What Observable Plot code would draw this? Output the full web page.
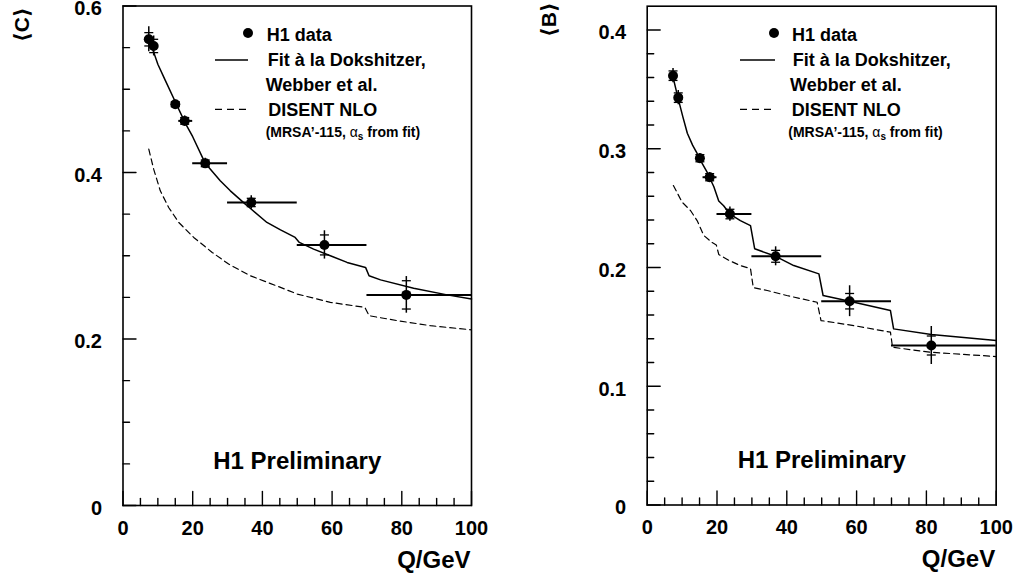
<!DOCTYPE html>
<html><head><meta charset="utf-8">
<script src="https://cdn.jsdelivr.net/npm/d3@7"></script>
<script src="https://cdn.jsdelivr.net/npm/@observablehq/plot@0.6"></script>
<style>
body{margin:0;background:#fff;}
#wrap{position:relative;width:1017px;height:582px;overflow:hidden;background:#fff;}
#left{position:absolute;left:0;top:0;}
#right{position:absolute;left:520px;top:0;}
</style></head><body><div id="wrap"><div id="left"></div><div id="right"></div></div>
<script>
const FONT = '"Liberation Sans", Arial, Helvetica, "DejaVu Sans", sans-serif';

// ---------- shared axis ticks ----------
const xMajor = [0, 20, 40, 60, 80, 100];
const xMinor = [5, 10, 15, 25, 30, 35, 45, 50, 55, 65, 70, 75, 85, 90, 95];
const yMajorC = [0, 0.2, 0.4, 0.6];
const yMinorC = [0.05, 0.1, 0.15, 0.25, 0.3, 0.35, 0.45, 0.5, 0.55];
const yLabelsC = ["0", "0.2", "0.4", "0.6"];
const yMajorB = [0, 0.1, 0.2, 0.3, 0.4];
const yMinorB = [0.02, 0.04, 0.06, 0.08, 0.12, 0.14, 0.16, 0.18, 0.22, 0.24, 0.26, 0.28, 0.32, 0.34, 0.36, 0.38];
const yLabelsB = ["0", "0.1", "0.2", "0.3", "0.4"];

// ---------- H1 data: <C> ----------
const qC    = [7.4, 8.8, 15.0, 17.7, 23.6, 36.8, 57.8, 81.3];
const loC   = [7, 8, 14, 16, 20, 30, 50, 70];
const hiC   = [8, 10, 16, 20, 30, 50, 70, 100];
const valC  = [0.560, 0.552, 0.482, 0.462, 0.411, 0.364, 0.313, 0.253];
const statC = [0.008, 0.008, 0.003, 0.004, 0.004, 0.005, 0.012, 0.017];
const totC  = [0.015, 0.012, 0.005, 0.006, 0.006, 0.008, 0.017, 0.022];

// fit (solid) for <C>
const fitCq = [7.8, 8.6, 10, 12.1, 15, 17.9, 20, 23.6, 27.9, 30.8, 35.1, 36.5, 41.3, 45.2, 49.4, 50.6, 54.7, 59.5, 64.3, 69.6, 70.6, 73.9, 83.4, 93, 100];
const fitCv = [0.553, 0.547, 0.530, 0.511, 0.485, 0.459, 0.443, 0.411, 0.390, 0.378, 0.362, 0.357, 0.340, 0.331, 0.322, 0.316, 0.308, 0.300, 0.292, 0.286, 0.276, 0.271, 0.261, 0.253, 0.248];
// DISENT NLO (dashed) for <C>
const nloCq = [7.4, 8.8, 10.7, 13.1, 16, 20.3, 25.6, 30.3, 36.5, 45.2, 50, 59.5, 69.4, 70.6, 78.7, 88.2, 100];
const nloCv = [0.428, 0.404, 0.378, 0.358, 0.340, 0.322, 0.304, 0.290, 0.276, 0.262, 0.254, 0.244, 0.238, 0.228, 0.222, 0.216, 0.211];

// ---------- H1 data: <B> ----------
const qB    = [7.4, 8.9, 15.1, 17.9, 23.7, 36.8, 58.0, 81.4];
const loB   = [7, 8, 14, 16, 20, 30, 50, 70];
const hiB   = [8, 10, 16, 20, 30, 50, 70, 100];
const valB  = [0.3615, 0.343, 0.292, 0.276, 0.245, 0.2094, 0.1716, 0.1343];
const statB = [0.004, 0.004, 0.003, 0.003, 0.004, 0.005, 0.0065, 0.008];
const totB  = [0.006, 0.006, 0.004, 0.004, 0.006, 0.008, 0.013, 0.016];

const fitBq = [7.3, 8.8, 10.2, 11.5, 13, 14.3, 15.1, 17.2, 19.1, 20.5, 21.9, 23.7, 26.7, 29.6, 30.8, 36.8, 42, 49.2, 50.4, 58, 69.7, 70.6, 81.4, 100];
const fitBv = [0.3615, 0.343, 0.327, 0.313, 0.303, 0.296, 0.291, 0.280, 0.268, 0.256, 0.252, 0.245, 0.2395, 0.2353, 0.2157, 0.2094, 0.2016, 0.1946, 0.1764, 0.1716, 0.1637, 0.1483, 0.1435, 0.1385];
const nloBq = [7.5, 10, 12.4, 14.3, 16.2, 18.6, 19.8, 20.5, 23.4, 26.7, 29.6, 30.4, 34.4, 40, 48.7, 49.8, 59.2, 69.7, 70.3, 81.2, 100];
const nloBv = [0.269, 0.255, 0.248, 0.2395, 0.227, 0.221, 0.219, 0.211, 0.206, 0.2016, 0.199, 0.183, 0.1806, 0.1764, 0.1707, 0.1553, 0.1511, 0.1455, 0.1328, 0.1286, 0.125];

// ---------- text ----------
const legendTexts = ["H1 data", "Fit \u00e0 la Dokshitzer,", "Webber et al.", "DISENT NLO"];
const prelimText = "H1 Preliminary";
const xTitle = "Q/GeV";

const zipPts = (q, lo, hi, v, st, tot) => q.map((d, i) => ({q: d, lo: lo[i], hi: hi[i], v: v[i], stat: st[i], tot: tot[i]}));
const zipLine = (q, v) => q.map((d, i) => ({q: d, v: v[i]}));

const dash = {draw(ctx, size) { const r = Math.sqrt(size / Math.PI); ctx.moveTo(-r, 0); ctx.lineTo(r, 0); }};
const tickShape = {draw(ctx, l) { ctx.moveTo(0, 0); ctx.lineTo(0, -l); }};

function tickMarks(yMajor, yMinor) {
  const st = {stroke: "black", strokeWidth: 1.4, anchor: "start", shape: tickShape};
  return [
    Plot.vector(xMinor, {x: d => d, frameAnchor: "bottom", length: 7, rotate: 0, ...st}),
    Plot.vector(xMajor, {x: d => d, frameAnchor: "bottom", length: 14, rotate: 0, ...st}),
    Plot.vector(yMinor, {y: d => d, frameAnchor: "left", length: 6.5, rotate: 90, ...st}),
    Plot.vector(yMajor, {y: d => d, frameAnchor: "left", length: 13, rotate: 90, ...st})
  ];
}

function panel(cfg) {
  const pts = zipPts(...cfg.pts);
  const svg = Plot.plot({
    width: cfg.width, height: 582,
    marginLeft: cfg.ml, marginRight: cfg.mr, marginTop: cfg.mt, marginBottom: cfg.mb,
    x: {domain: [0, 100], axis: null},
    y: {domain: [0, cfg.ymax], axis: null},
    style: {fontFamily: FONT, fontWeight: "bold", background: "white", overflow: "visible", color: "black"},
    marks: [
      ...tickMarks(cfg.yMajor, cfg.yMinor),
      Plot.frame({stroke: "black", strokeWidth: 1.6}),
      Plot.text(xMajor, {x: d => d, frameAnchor: "bottom", dy: 29, lineAnchor: "bottom", fontSize: 20, fontWeight: "bold", text: d => String(d), fill: "black"}),
      Plot.text(cfg.yMajor, {y: d => d, frameAnchor: "left", dx: -21, dy: 3, textAnchor: "end", lineAnchor: "middle", fontSize: 20, fontWeight: "bold", text: (d, i) => cfg.yLabels[i], fill: "black"}),
      Plot.line(zipLine(...cfg.nlo), {x: "q", y: "v", stroke: "black", strokeWidth: 1.2, strokeDasharray: "6,4"}),
      Plot.line(zipLine(...cfg.fit), {x: "q", y: "v", stroke: "black", strokeWidth: 1.5}),
      Plot.ruleY(pts, {y: "v", x1: "lo", x2: "hi", stroke: "black", strokeWidth: 2}),
      Plot.ruleX(pts, {x: "q", y1: d => d.v - d.tot, y2: d => d.v + d.tot, stroke: "black", strokeWidth: 1.5}),
      Plot.dot(pts, {x: "q", y: d => d.v + d.stat, symbol: dash, r: 4.5, fill: "none", stroke: "black", strokeWidth: 1.3}),
      Plot.dot(pts, {x: "q", y: d => d.v - d.stat, symbol: dash, r: 4.5, fill: "none", stroke: "black", strokeWidth: 1.3}),
      Plot.dot(pts, {x: "q", y: "v", r: 5, fill: "black", stroke: "none"}),
      Plot.text([prelimText], {frameAnchor: "bottom", dy: -37, lineAnchor: "bottom", fontSize: 24, fontWeight: "bold", fill: "black"}),
      Plot.text([xTitle], {frameAnchor: "bottom-right", dx: -1, dy: 62, textAnchor: "end", lineAnchor: "bottom", fontSize: 24, fontWeight: "bold", fill: "black"}),
      Plot.text([cfg.yTitle], {frameAnchor: "top-left", dx: cfg.ytdx, dy: cfg.ytdy, rotate: -90, textAnchor: "end", lineAnchor: "middle", fontSize: 21, fontWeight: "bold", fill: "black"})
    ]
  });
  // legend
  const L = cfg.legend;
  const g = d3.select(svg).append("g").attr("font-family", FONT).attr("font-weight", "bold").attr("fill", "black").attr("text-anchor", "start");
  g.append("circle").attr("cx", L.dotX).attr("cy", 33).attr("r", 5).attr("fill", "black");
  g.append("line").attr("x1", L.l1).attr("x2", L.l2).attr("y1", 60).attr("y2", 60).attr("stroke", "black").attr("stroke-width", 1.5);
  g.append("line").attr("x1", L.l1).attr("x2", L.l2).attr("y1", 109.3).attr("y2", 109.3).attr("stroke", "black").attr("stroke-width", 1.3).attr("stroke-dasharray", "7,5");
  const base = [40.5, 65.5, 90.7, 115.7];
  legendTexts.forEach((t, i) => {
    g.append("text").attr("x", L.tx[i]).attr("y", base[i]).attr("font-size", 18).attr("text-anchor", "start").text(t);
  });
  const m = g.append("text").attr("x", L.tx[4]).attr("y", 137).attr("font-size", 14).attr("text-anchor", "start");
  m.append("tspan").text("(MRSA\u2019-115, ");
  m.append("tspan").attr("font-weight", "normal").text("\u03b1");
  m.append("tspan").attr("font-size", 10).attr("dy", 3).text("s");
  m.append("tspan").attr("dy", -3).text(" from fit)");
  return svg;
}

document.getElementById("left").appendChild(panel({
  width: 520, ml: 122.5, mr: 49, mt: 5.5, mb: 77, ymax: 0.6,
  yMajor: yMajorC, yMinor: yMinorC, yLabels: yLabelsC,
  pts: [qC, loC, hiC, valC, statC, totC],
  fit: [fitCq, fitCv], nlo: [nloCq, nloCv],
  yTitle: "\u27e8C\u27e9", ytdx: -101, ytdy: 1.5,
  legend: {dotX: 248, l1: 215, l2: 248, tx: [266.7, 267.7, 265.7, 268.3, 265.7]}
}));
document.getElementById("right").appendChild(panel({
  width: 497, ml: 126.7, mr: 21.3, mt: 5.7, mb: 77.5, ymax: 0.42,
  yMajor: yMajorB, yMinor: yMinorB, yLabels: yLabelsB,
  pts: [qB, loB, hiB, valB, statB, totB],
  fit: [fitBq, fitBv], nlo: [nloBq, nloBv],
  yTitle: "\u27e8B\u27e9", ytdx: -98.2, ytdy: -3.7,
  legend: {dotX: 254, l1: 220, l2: 255, tx: [272, 272.7, 270, 271.7, 268.3]}
}));
</script>
</body></html>
